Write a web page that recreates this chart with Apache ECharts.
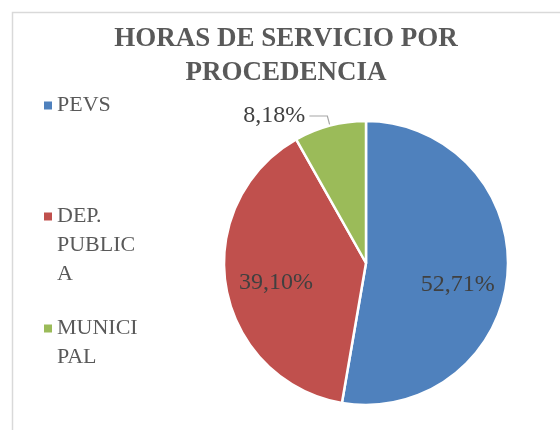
<!DOCTYPE html>
<html>

<head>
    <meta charset="utf-8">
    <script type="text/javascript" src="https://cdn.jsdelivr.net/npm/echarts@6/dist/echarts.min.js"></script>
</head>

<body style="margin: 0; background: #fff">
    <div id="container" style="height: 430px; width: 560px;"></div>
    <script type="text/javascript">
    // data (percent of hours)
    var categories = ['PEVS', 'DEP. PUBLICA', 'MUNICIPAL'];
    var shares = [52.71, 39.10, 8.18];
    var colors = ['#4F81BD', '#C0504D', '#9BBB59'];

    var serif = '"Liberation Serif", "DejaVu Serif", serif';
    var textGrey = '#595959';

    // legend: one box per item so the rows land where Excel put them
    // blank lines in front push the marker up to the first text line
    var legendTops = [91, 144, 285];
    var legendFormats = ['{name}', '\n\n{name}', '\n{name}'];
    var lineH = 29;

    var legends = categories.map(function (name, i) {
        return {
            data: [name],
            orient: 'vertical',
            left: 44,
            top: legendTops[i],
            padding: 0,
            icon: 'rect',
            itemWidth: 8,
            itemHeight: 8,
            itemGap: 0,
            selectedMode: false,
            formatter: legendFormats[i],
            itemStyle: { borderWidth: 0 },
            textStyle: {
                fontFamily: serif,
                fontSize: 22,
                color: textGrey,
                lineHeight: lineH,
                width: 84,
                overflow: 'break'
            }
        };
    });

    // small nudges for the inside labels (Excel puts them further out)
    var labelShift = [[18, 15], [-17, 7], [0, 0]];

    var pieData = categories.map(function (name, i) {
        var item = { name: name, value: shares[i], itemStyle: { color: colors[i] } };
        if (i === 2) {
            item.label = { position: 'outside', distanceToLabelLine: 4 };
            item.labelLine = { show: true, length: 10, length2: 18, lineStyle: { color: '#A6A6A6', width: 1.2 } };
        }
        return item;
    });

    var dom = document.getElementById('container');
    var myChart = echarts.init(dom);

    var option = {
        backgroundColor: '#fff',
        animation: false,
        title: {
            text: 'HORAS DE SERVICIO POR\nPROCEDENCIA',
            left: 286,
            top: 22,
            textAlign: 'center',
            padding: 0,
            textStyle: {
                fontFamily: serif,
                fontSize: 27,
                fontWeight: 'bold',
                color: textGrey,
                lineHeight: 34
            }
        },
        legend: legends,
        graphic: [{
            type: 'rect',
            z: -10,
            shape: { x: 12.5, y: 12.5, width: 700, height: 600 },
            style: { fill: 'none', stroke: '#D9D9D9', lineWidth: 1.5 }
        }],
        series: [{
            type: 'pie',
            center: [366, 263],
            radius: [0, 142],
            startAngle: 90,
            clockwise: true,
            itemStyle: { borderColor: '#fff', borderWidth: 2.5 },
            label: {
                show: true,
                position: 'inside',
                fontFamily: serif,
                fontSize: 24,
                color: '#404040',
                formatter: function (p) {
                    return p.value.toFixed(2).replace('.', ',') + '%';
                }
            },
            labelLine: { show: false },
            labelLayout: function (p) {
                var s = labelShift[p.dataIndex];
                return { dx: s[0], dy: s[1] };
            },
            data: pieData
        }]
    };

    myChart.setOption(option);
    </script>
</body>
</html>
